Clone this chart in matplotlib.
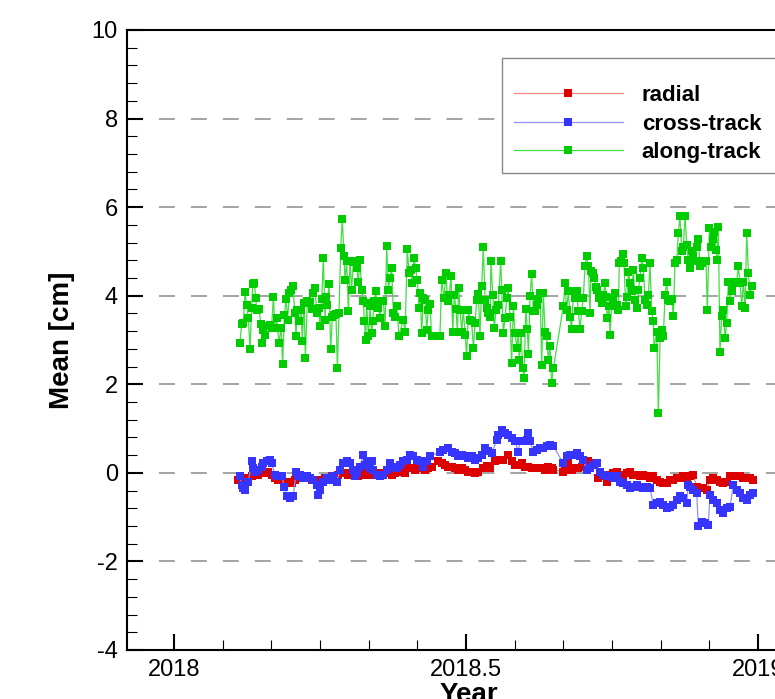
import matplotlib
matplotlib.use('Agg')
import matplotlib.pyplot as plt
import numpy as np
from matplotlib.ticker import MultipleLocator, FuncFormatter
from matplotlib.patches import Rectangle

plt.rcParams['font.family'] = 'Liberation Sans'
plt.rcParams['axes.unicode_minus'] = False
plt.rcParams['lines.scale_dashes'] = False

YEAR0 = 2018

# daily mean orbit differences, day of year 2018 -> value in cm
radial_day = [
    40.2, 42.3, 44.4, 46.5, 48.5, 50.6, 52.7, 54.8, 56.9, 59.0,
    61.0, 63.1, 65.2, 67.3, 69.4, 71.5, 73.5, 75.6, 77.7, 79.8,
    81.9, 84.0, 86.0, 88.1, 90.2, 92.3, 94.4, 96.5, 98.5, 100.6,
    102.7, 104.8, 106.9, 109.0, 111.0, 113.1, 115.2, 117.3, 119.4, 121.5,
    123.5, 125.6, 127.7, 129.8, 131.9, 134.0, 136.0, 138.1, 140.2, 142.3,
    144.4, 146.5, 148.5, 150.6, 152.7, 154.8, 156.9, 159.0, 161.0, 165.2,
    167.3, 169.4, 171.4, 173.5, 175.6, 177.7, 179.8, 181.9, 184.0, 186.0,
    188.1, 190.2, 193.3, 195.4, 197.5, 200.6, 202.7, 205.8, 209.0, 211.0,
    213.1, 215.2, 217.3, 219.4, 221.5, 223.5, 225.6, 227.7, 229.8, 231.9,
    234.0, 236.0, 237.1, 243.3, 244.4, 246.5, 248.5, 250.6, 252.7, 254.8,
    256.9, 259.0, 261.0, 263.1, 265.2, 267.3, 270.4, 272.5, 274.6, 276.7,
    278.8, 280.8, 282.9, 285.0, 287.1, 289.2, 291.2, 293.3, 295.4, 297.5,
    299.6, 301.7, 303.8, 305.8, 307.9, 310.0, 312.1, 314.2, 316.2, 318.3,
    320.4, 322.5, 324.6, 326.7, 328.8, 330.8, 332.9, 335.0, 337.1, 339.2,
    341.2, 343.3, 345.4, 347.5, 349.6, 351.7, 353.8, 355.8, 357.9, 360.0,
    362.1,
]
radial_val = [
    -0.16, -0.20, -0.16, -0.12, -0.08, -0.05, -0.05, -0.01, -0.01, 0.03,
    -0.05, -0.12, -0.16, -0.16, -0.20, -0.20, -0.23, -0.16, -0.12, -0.08,
    -0.08, -0.12, -0.16, -0.16, -0.20, -0.16, -0.12, -0.12, -0.08, -0.08,
    -0.05, -0.01, -0.01, -0.05, -0.01, -0.05, -0.08, -0.05, -0.01, -0.05,
    -0.05, -0.01, -0.01, -0.05, -0.01, -0.01, -0.05, -0.01, 0.03, 0.07,
    -0.01, 0.11, 0.11, 0.07, 0.11, 0.11, 0.07, 0.11, 0.14, 0.26,
    0.22, 0.18, 0.14, 0.14, 0.11, 0.07, 0.11, 0.07, 0.03, 0.03,
    -0.01, 0.02, 0.10, 0.16, 0.12, 0.26, 0.29, 0.29, 0.41, 0.26,
    0.18, 0.18, 0.22, 0.14, 0.14, 0.11, 0.11, 0.11, 0.11, 0.07,
    0.14, 0.11, 0.07, 0.03, 0.07, 0.22, 0.07, 0.11, 0.11, 0.14,
    0.18, 0.26, 0.22, 0.18, -0.12, -0.08, -0.20, -0.05, -0.01, 0.03,
    -0.05, -0.05, -0.01, 0.03, -0.05, -0.05, -0.08, -0.05, -0.08, -0.12,
    -0.08, -0.16, -0.20, -0.23, -0.23, -0.16, -0.16, -0.12, -0.12, -0.08,
    -0.12, -0.08, -0.05, -0.31, -0.35, -0.35, -0.38, -0.16, -0.12, -0.16,
    -0.20, -0.23, -0.20, -0.08, -0.08, -0.08, -0.08, -0.12, -0.12, -0.12,
    -0.16,
]

cross_day = [
    41.2, 42.3, 43.3, 44.4, 46.5, 48.5, 49.6, 50.6, 52.7, 54.8,
    55.8, 57.9, 60.0, 61.0, 63.1, 65.2, 67.3, 69.0, 70.4, 72.5,
    74.6, 76.2, 77.7, 78.8, 80.8, 82.9, 85.0, 87.1, 89.2, 90.2,
    91.2, 93.3, 95.4, 97.5, 99.6, 101.7, 103.8, 105.8, 107.9, 110.0,
    112.1, 113.1, 114.2, 116.2, 118.3, 119.4, 120.4, 122.5, 123.5, 124.6,
    126.7, 128.8, 130.8, 132.9, 135.0, 137.1, 139.2, 141.2, 143.3, 145.4,
    147.5, 149.6, 151.7, 153.8, 155.8, 157.9, 160.0, 166.2, 168.3, 171.4,
    173.5, 175.6, 177.7, 179.8, 181.9, 184.0, 186.0, 188.1, 190.2, 192.3,
    194.4, 196.5, 198.5, 201.7, 202.7, 204.8, 206.9, 209.0, 211.0, 213.1,
    215.2, 216.2, 218.3, 220.4, 221.5, 222.5, 224.6, 226.7, 228.8, 230.8,
    232.9, 235.0, 237.1, 243.3, 245.4, 247.5, 249.6, 251.7, 253.8, 255.8,
    257.9, 260.0, 262.1, 264.2, 266.2, 268.3, 270.4, 272.5, 274.6, 276.7,
    278.8, 280.8, 282.9, 285.0, 287.1, 289.2, 291.2, 293.3, 295.4, 297.5,
    299.6, 301.7, 303.8, 305.8, 307.9, 310.0, 312.1, 314.2, 316.2, 318.3,
    320.4, 321.4, 322.5, 324.6, 326.7, 327.7, 329.8, 331.9, 333.9, 335.0,
    337.1, 339.2, 341.2, 343.3, 345.4, 347.5, 349.6, 351.7, 353.8, 355.8,
    357.9, 360.0, 362.1,
]
cross_val = [
    -0.08, -0.27, -0.35, -0.38, -0.20, 0.26, 0.11, 0.03, 0.07, 0.14,
    0.22, 0.26, 0.29, 0.22, -0.05, -0.08, -0.08, -0.31, -0.53, -0.57,
    -0.53, 0.03, -0.08, -0.05, -0.12, -0.08, -0.12, -0.16, -0.27, -0.50,
    -0.38, -0.20, -0.12, -0.16, -0.08, -0.20, 0.07, 0.22, 0.26, 0.22,
    0.07, -0.08, -0.01, 0.14, 0.41, 0.18, 0.26, 0.11, 0.26, 0.07,
    -0.05, -0.08, -0.05, 0.07, 0.22, 0.14, 0.11, 0.18, 0.26, 0.29,
    0.41, 0.37, 0.29, 0.26, 0.14, 0.26, 0.37, 0.48, 0.52, 0.56,
    0.48, 0.44, 0.37, 0.41, 0.37, 0.33, 0.37, 0.29, 0.33, 0.41,
    0.56, 0.50, 0.44, 0.74, 0.86, 0.97, 0.90, 0.86, 0.78, 0.71,
    0.48, 0.71, 0.71, 0.74, 0.90, 0.71, 0.48, 0.52, 0.56, 0.56,
    0.60, 0.63, 0.60, 0.22, 0.37, 0.41, 0.41, 0.44, 0.37, 0.29,
    0.07, 0.11, 0.18, 0.22, 0.03, -0.05, -0.08, -0.08, -0.12, -0.08,
    -0.20, -0.23, -0.27, -0.35, -0.31, -0.27, -0.31, -0.35, -0.31, -0.35,
    -0.72, -0.68, -0.65, -0.72, -0.80, -0.76, -0.72, -0.61, -0.53, -0.57,
    -0.68, -0.27, -0.31, -0.38, -0.46, -1.21, -1.10, -1.14, -1.17, -0.50,
    -0.61, -0.68, -0.84, -0.91, -0.80, -0.76, -0.27, -0.38, -0.46, -0.57,
    -0.61, -0.50, -0.46,
]

along_day = [
    41.2, 42.3, 43.3, 44.4, 45.4, 46.5, 47.5, 48.5, 49.2, 50.2,
    51.0, 51.7, 53.1, 54.2, 55.2, 55.8, 56.9, 57.9, 60.0, 61.0,
    62.1, 63.1, 64.2, 65.6, 66.9, 67.9, 69.0, 70.0, 71.0, 72.1,
    73.1, 74.2, 75.6, 76.2, 77.1, 78.3, 79.4, 80.2, 81.3, 82.1,
    83.3, 85.0, 86.0, 87.1, 88.1, 89.2, 90.4, 91.2, 92.3, 93.3,
    94.4, 95.0, 95.8, 96.9, 97.9, 99.0, 100.0, 101.2, 102.1, 103.1,
    104.2, 105.2, 106.2, 106.9, 107.9, 109.0, 110.0, 111.0, 112.1, 113.1,
    114.2, 115.2, 116.2, 117.3, 118.3, 119.0, 119.8, 120.4, 121.5, 122.5,
    123.5, 124.2, 125.0, 126.0, 126.7, 127.7, 128.8, 129.8, 130.8, 131.9,
    132.9, 134.0, 135.0, 136.0, 137.1, 138.1, 139.2, 140.6, 143.3, 144.4,
    145.8, 146.9, 147.9, 149.0, 150.0, 151.0, 152.1, 153.1, 153.8, 154.8,
    155.8, 156.9, 157.9, 159.0, 160.0, 161.0, 166.2, 167.3, 168.8, 170.0,
    171.0, 172.1, 173.1, 174.2, 175.2, 176.2, 177.1, 177.9, 178.8, 179.8,
    180.8, 181.9, 182.9, 184.0, 185.0, 186.0, 187.1, 188.1, 189.2, 190.2,
    191.2, 192.3, 193.3, 194.4, 195.4, 196.5, 197.5, 198.1, 199.2, 200.2,
    201.2, 202.7, 204.2, 204.8, 205.8, 206.9, 207.9, 209.0, 210.0, 211.0,
    212.1, 213.1, 214.2, 215.2, 215.8, 216.9, 217.9, 218.8, 219.8, 220.8,
    221.5, 222.5, 223.5, 224.6, 225.6, 226.7, 227.7, 228.8, 229.8, 230.8,
    231.9, 232.9, 234.0, 235.0, 236.0, 237.1, 243.3, 244.4, 245.4, 246.5,
    247.5, 248.5, 249.6, 250.6, 251.7, 252.7, 253.8, 254.8, 255.8, 256.9,
    257.9, 259.0, 260.0, 260.6, 261.7, 262.7, 263.8, 264.6, 265.6, 266.2,
    267.3, 268.3, 269.4, 270.0, 270.8, 271.9, 272.5, 273.5, 274.6, 275.6,
    276.7, 277.7, 278.3, 279.4, 280.4, 281.2, 282.3, 282.9, 284.0, 285.0,
    286.0, 287.1, 288.1, 289.2, 290.2, 291.2, 292.3, 293.3, 294.4, 295.4,
    296.5, 297.5, 298.5, 299.6, 300.0, 301.7, 302.7, 303.8, 304.8, 305.8,
    306.9, 307.9, 309.0, 310.0, 311.0, 312.1, 313.1, 314.2, 315.2, 316.2,
    317.3, 318.3, 319.4, 320.4, 321.4, 322.5, 323.5, 324.6, 325.6, 326.7,
    327.7, 328.8, 329.8, 330.8, 332.5, 333.3, 334.6, 335.6, 336.7, 337.7,
    338.8, 339.2, 340.2, 341.2, 342.3, 343.3, 344.4, 345.4, 346.5, 347.5,
    348.5, 349.6, 350.6, 351.7, 352.7, 353.8, 354.8, 355.8, 356.9, 357.9,
    359.0, 360.0, 361.0,
]
along_val = [
    2.94, 3.37, 3.38, 4.08, 3.80, 3.49, 2.79, 3.72, 4.27, 4.29,
    3.95, 3.68, 3.71, 3.37, 2.94, 3.23, 3.12, 3.31, 3.34, 3.27,
    3.98, 3.27, 3.49, 2.93, 3.27, 2.46, 3.57, 3.92, 3.46, 4.06,
    4.12, 4.23, 3.62, 3.08, 3.68, 3.42, 3.68, 2.97, 3.83, 2.59,
    3.87, 3.85, 3.70, 4.06, 4.17, 3.61, 3.72, 3.31, 3.92, 4.85,
    3.46, 3.97, 3.80, 4.27, 2.79, 3.53, 3.57, 3.59, 2.36, 3.61,
    5.08, 5.74, 4.89, 4.36, 4.78, 3.65, 4.78, 4.14, 4.76, 4.78,
    4.63, 4.32, 4.80, 4.12, 3.87, 3.44, 3.00, 3.83, 3.08, 3.76,
    3.16, 3.42, 3.87, 4.10, 3.87, 3.72, 3.49, 3.87, 3.87, 3.31,
    5.12, 4.14, 4.40, 4.63, 3.61, 3.53, 3.76, 3.10, 3.46, 3.19,
    5.06, 4.51, 4.59, 4.29, 4.85, 4.63, 4.35, 3.72, 4.06, 3.16,
    3.95, 3.91, 3.23, 3.68, 3.82, 3.08, 3.10, 4.35, 3.95, 4.51,
    3.87, 4.02, 4.44, 3.19, 4.02, 3.70, 3.19, 4.17, 3.68, 3.19,
    3.68, 3.12, 2.64, 3.68, 3.46, 3.42, 2.82, 3.38, 3.91, 4.04,
    3.10, 4.21, 5.10, 3.91, 3.72, 3.61, 3.52, 4.79, 4.02, 3.27,
    3.68, 3.80, 4.79, 4.14, 3.16, 3.49, 3.95, 4.17, 3.52, 2.48,
    3.76, 3.16, 2.82, 3.16, 2.55, 3.16, 2.36, 2.15, 3.70, 3.25,
    2.69, 4.00, 4.49, 3.65, 3.65, 3.80, 3.92, 4.07, 2.44, 4.07,
    3.19, 3.10, 2.55, 2.87, 2.03, 2.36, 3.76, 4.29, 3.68, 4.10,
    3.53, 3.25, 4.10, 3.95, 4.10, 3.65, 3.25, 3.65, 3.95, 4.68,
    4.89, 4.66, 3.61, 4.55, 4.51, 4.40, 4.20, 4.14, 3.95, 3.98,
    3.83, 4.02, 4.29, 3.98, 3.49, 3.76, 3.12, 3.76, 3.95, 4.06,
    3.80, 3.68, 4.74, 4.78, 4.95, 4.75, 3.76, 3.97, 4.53, 4.29,
    4.10, 4.59, 3.91, 3.72, 4.14, 4.40, 4.85, 4.63, 3.91, 3.80,
    4.02, 4.74, 3.65, 3.42, 2.82, 3.19, 1.35, 3.04, 3.23, 3.08,
    4.02, 4.30, 3.91, 3.87, 3.92, 3.55, 4.75, 4.81, 5.42, 5.81,
    5.00, 5.10, 5.81, 5.15, 4.81, 4.63, 5.00, 4.89, 4.78, 5.11,
    5.27, 4.66, 4.74, 4.78, 4.78, 3.67, 5.53, 5.11, 5.27, 5.45,
    5.04, 4.81, 5.55, 2.74, 3.55, 3.68, 3.04, 3.38, 4.32, 3.87,
    4.10, 4.29, 4.32, 4.32, 4.66, 4.29, 3.77, 4.32, 3.72, 5.42,
    4.51, 4.02, 4.21,
]

labels = ['radial', 'cross-track', 'along-track']
marker_colors = ['#dd0000', '#3535ff', '#00cc00']
line_colors = ['#f08888', '#9090ff', '#44dd44']


def to_year(days):
    return YEAR0 + np.asarray(days) / 365.0


fig = plt.figure(figsize=(7.75, 6.99), dpi=100)
ax = fig.add_axes([127 / 775, 49 / 699, 683.6 / 775, 620 / 699])

series = [(radial_day, radial_val), (cross_day, cross_val), (along_day, along_val)]
for (d, v), lab, mc, lc in zip(series, labels, marker_colors, line_colors):
    ax.plot(to_year(d), v, '-s', color=lc, lw=0.9, ms=5.8,
            mfc=mc, mec=mc, mew=0, label=lab)

ax.set_xlim(2017.9195, 2019.09)
ax.set_ylim(-4, 10)

ax.xaxis.set_major_locator(MultipleLocator(0.5))
ax.xaxis.set_minor_locator(MultipleLocator(1 / 12))
ax.xaxis.set_major_formatter(FuncFormatter(lambda v, _: f'{v:g}'))
ax.yaxis.set_major_locator(MultipleLocator(2))
ax.yaxis.set_minor_locator(MultipleLocator(0.4))

ax.tick_params(which='major', direction='in', length=11.5, width=1.5,
               labelsize=17, pad=6.5)
ax.tick_params(which='minor', direction='in', length=7.2, width=0.8)
for sp in ax.spines.values():
    sp.set_linewidth(1.5)

ax.set_axisbelow(True)
ax.yaxis.grid(True, which='major', color='#8c8c8c',
              linestyle=(0, (11.5, 11.5)), linewidth=1.1)

ax.set_ylabel('Mean [cm]', fontsize=20, fontweight='bold', labelpad=12)
ax.set_xlabel('Year', fontsize=20, fontweight='bold', labelpad=1)

# white legend box with grey border, legend entries placed inside it
frame = Rectangle((502 / 775, 1 - 173 / 699), 0.5, 115 / 699,
                  transform=fig.transFigure, facecolor='white',
                  edgecolor='#888888', lw=1.0, zorder=4, clip_on=False)
ax.add_artist(frame)
leg = ax.legend(loc='upper left', bbox_to_anchor=(514 / 775, 1 - 85 / 699),
                bbox_transform=fig.transFigure, frameon=False, borderpad=0,
                borderaxespad=0, handlelength=4.9, handletextpad=0.85,
                labelspacing=0.34, markerscale=1.1,
                prop={'weight': 'bold', 'size': 16})
leg.set_zorder(5)

fig.savefig('out.png', dpi=100)
